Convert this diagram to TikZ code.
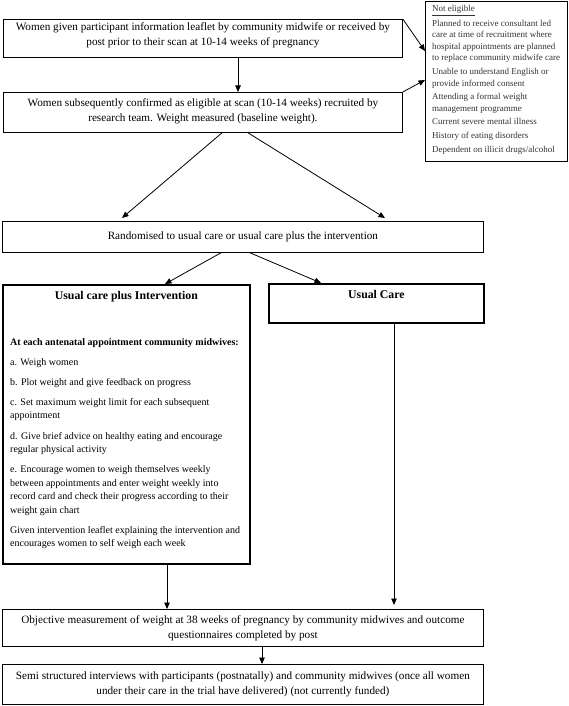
\documentclass[tikz,border=0pt]{standalone}
\usepackage{fontspec}
\setmainfont{Liberation Serif}
\usetikzlibrary{arrows.meta,calc}
\begin{document}
\begin{tikzpicture}[x=1pt,y=-1pt,
  boxf/.style={draw, line width=0.8pt, inner sep=0pt, anchor=north west},
  txt/.style={inner sep=0pt, align=center, anchor=north, font=\fontsize{11.2}{15}\selectfont},
  thickbox/.style={draw, line width=1.8pt, inner sep=0pt, anchor=north west},
  ttl/.style={anchor=north, inner sep=0pt, font=\bfseries\fontsize{11.8}{14}\selectfont},
  arr/.style={-{Triangle[length=6.5pt,width=5.5pt]}, line width=0.8pt}]
\useasboundingbox (0,0) rectangle (569,706);
% top boxes
\node[boxf, minimum width=399pt, minimum height=38pt] (b1) at (3,19) {};
\node[txt] (b1t) at ($(b1.north)+(0,3.5)$)
  {Women given participant information leaflet by community midwife or received by\\post prior to their scan at 10-14 weeks of pregnancy};
\node[boxf, minimum width=399pt, minimum height=40pt] (b2) at (3,92) {};
\node[txt] (b2t) at ($(b2.north)+(0,6)$)
  {Women subsequently confirmed as eligible at scan (10-14 weeks) recruited by\\research team. Weight measured (baseline weight).};
% not eligible
\node[boxf, minimum width=142pt, minimum height=160pt] (ne) at (425,1) {};
\node[anchor=north west, inner sep=0pt, align=left, text=black!80,
  font=\fontsize{9.0}{11.6}\selectfont] (net) at ($(ne.north west)+(7,4)$)
  {\underline{Not eligible}\\[3pt]
   Planned to receive consultant led\\care at time of recruitment where\\hospital appointments are planned\\to replace community midwife care\\[2pt]
   Unable to understand English or\\provide informed consent\\[2pt]
   Attending a formal weight\\management programme\\[2pt]
   Current severe mental illness\\[2pt]
   History of eating disorders\\[2pt]
   Dependent on illicit drugs/alcohol};
% randomised
\node[boxf, minimum width=481pt, minimum height=31pt] (rd) at (2,221) {};
\node[txt, anchor=center] (rdt) at (rd.center) {Randomised to usual care or usual care plus the intervention};
% arms
\node[thickbox, minimum width=247pt, minimum height=279pt] (ui) at (2,284) {};
\node[ttl] (uit) at ($(ui.north)+(0,7)$) {Usual care plus Intervention};
\node[anchor=north west, inner sep=0pt, align=left, font=\fontsize{10}{13.5}\selectfont] (uil)
  at ($(ui.north west)+(8,54)$)
  {\textbf{At each antenatal appointment community midwives:}\\[6.6pt]
   a. Weigh women\\[6.6pt]
   b. Plot weight and give feedback on progress\\[6.6pt]
   c. Set maximum weight limit for each subsequent\\appointment\\[6.6pt]
   d. Give brief advice on healthy eating and encourage\\regular physical activity\\[6.6pt]
   e. Encourage women to weigh themselves weekly\\between appointments and enter weight weekly into\\record card and check their progress according to their\\weight gain chart\\[6.6pt]
   Given intervention leaflet explaining the intervention and\\encourages women to self weigh each week};
\node[thickbox, minimum width=215pt, minimum height=39pt] (uc) at (268,283) {};
\node[ttl] (uct) at ($(uc.north)+(0,7)$) {Usual Care};
% bottom boxes
\node[boxf, minimum width=481pt, minimum height=37pt] (ob) at (2,609) {};
\node[txt, anchor=center] (obt) at (ob.center)
  {Objective measurement of weight at 38 weeks of pregnancy by community midwives and outcome\\questionnaires completed by post};
\node[boxf, minimum width=481pt, minimum height=40pt] (ss) at (2,664) {};
\node[txt, anchor=center] (sst) at (ss.center)
  {Semi structured interviews with participants (postnatally) and community midwives (once all women\\under their care in the trial have delivered) (not currently funded)};
% connectors
\draw[arr] ($(b1.south west)+(235,0)$) -- ($(b2.north west)+(235,0)$);
\draw[arr] (b1.north east) -- ($(ne.north west)+(0,50)$);
\draw[arr] (b2.north east) -- ($(ne.north west)+(0,79)$);
\draw[arr] ($(b2.south west)+(219,0)$) -- ($(rd.north west)+(120,-3)$);
\draw[arr] ($(b2.south west)+(245,0)$) -- ($(rd.north west)+(383,-3)$);
\draw[arr] ($(rd.south west)+(219,0)$) -- ($(ui.north west)+(163,0)$);
\draw[arr] ($(rd.south west)+(248,0)$) -- ($(uc.north west)+(53,0)$);
\draw[arr] ($(ui.south west)+(165,0)$) -- ($(ob.north west)+(165,0)$);
\draw[arr] ($(uc.south west)+(126,0)$) -- ($(ob.north west)+(392,-4)$);
\draw[arr] ($(ob.south west)+(260,0)$) -- ($(ss.north west)+(260,0)$);
\end{tikzpicture}
\end{document}
